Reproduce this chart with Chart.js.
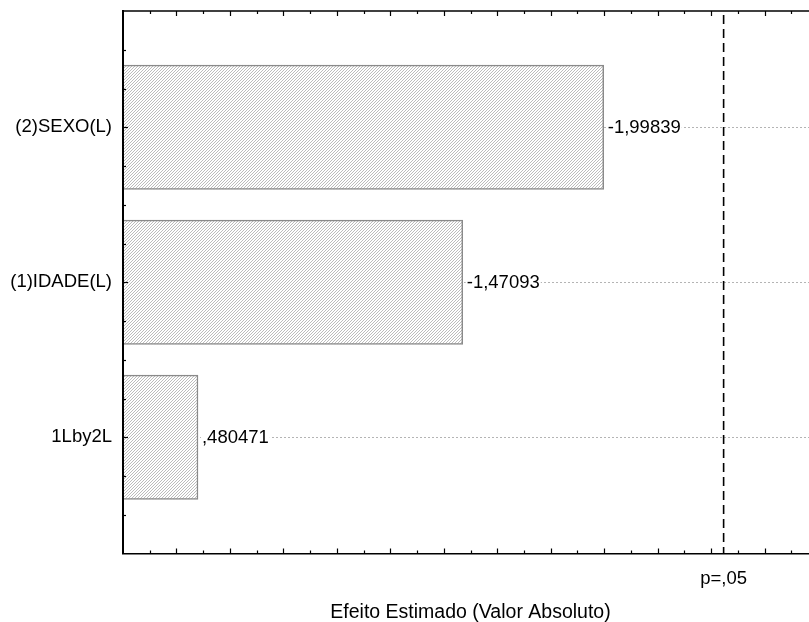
<!DOCTYPE html>
<html>
<head>
<meta charset="utf-8">
<script src="https://cdn.jsdelivr.net/npm/chart.js@4/dist/chart.umd.min.js"></script>
<style>
  html, body { margin: 0; padding: 0; background: #fff; overflow: hidden; }
  #wrap { width: 818px; height: 622px; position: relative; }
</style>
</head>
<body>
<div id="wrap"><canvas id="c"></canvas></div>
<script>
// ---- data ----
const categories = ['(2)SEXO(L)', '(1)IDADE(L)', '1Lby2L'];
const effects = [-1.99839, -1.47093, 0.480471];
const pCrit = 2.446912;
const pLabel = 'p=,05';
const xTitle = 'Efeito Estimado (Valor Absoluto)';
const xMin = 0.2, xMax = 2.8;
const yMin = -0.75, yMax = 2.75;

const FONT = '"Liberation Sans", Arial, Helvetica, sans-serif';

function fmt(v) {
  let s = String(v).replace('.', ',');
  s = s.replace(/^0,/, ',').replace(/^-0,/, '-,');
  return s;
}
function isInt(v) { return Math.abs(v - Math.round(v)) < 1e-6; }

function hatch() {
  const c = document.createElement('canvas');
  c.width = 3; c.height = 3;
  const g = c.getContext('2d');
  g.fillStyle = '#ffffff'; g.fillRect(0, 0, 3, 3);
  g.fillStyle = '#bcbcbc';
  g.fillRect(2, 0, 1, 1); g.fillRect(1, 1, 1, 1); g.fillRect(0, 2, 1, 1);
  return g.createPattern(c, 'repeat');
}

const annot = {
  id: 'annot',
  afterDatasetsDraw(chart) {
    const { ctx, chartArea: a, scales: { x } } = chart;
    const meta = chart.getDatasetMeta(0);
    ctx.save();
    ctx.font = '18.5px ' + FONT;
    ctx.textBaseline = 'middle';
    ctx.textAlign = 'left';
    meta.data.forEach((bar, i) => {
      const txt = fmt(effects[i]);
      const w = ctx.measureText(txt).width;
      const tx = bar.x + 4;
      ctx.fillStyle = '#fff';
      ctx.fillRect(tx - 1, bar.y - 9, w + 2, 18);
      ctx.fillStyle = '#000';
      ctx.fillText(txt, tx, bar.y + 1);
    });
    const px = x.getPixelForValue(pCrit);
    ctx.strokeStyle = '#000';
    ctx.lineWidth = 1.6;
    ctx.setLineDash([9, 5]);
    ctx.beginPath();
    ctx.moveTo(px, a.top + 4);
    ctx.lineTo(px, a.bottom);
    ctx.stroke();
    ctx.restore();
  },
  afterDraw(chart) {
    const { ctx, chartArea: a, scales: { x, y } } = chart;
    ctx.save();
    ctx.strokeStyle = '#000';
    ctx.lineWidth = 1.5;
    ctx.beginPath();
    ctx.moveTo(a.left, a.top);
    ctx.lineTo(a.right, a.top);
    ctx.stroke();
    ctx.lineWidth = 1.2;
    x.ticks.forEach(t => {
      const v = t.value;
      if (v <= xMin + 1e-6 || v >= xMax - 1e-6) return;
      if (Math.abs(v * 10 - Math.round(v * 10)) > 1e-6) return;
      const major = Math.round(v * 10) % 2 === 0;
      const len = major ? 5 : 3;
      const px = Math.round(x.getPixelForValue(v)) + 0.5;
      ctx.beginPath();
      ctx.moveTo(px, a.top); ctx.lineTo(px, a.top + len);
      ctx.moveTo(px, a.bottom); ctx.lineTo(px, a.bottom - len);
      ctx.stroke();
    });
    y.ticks.forEach(t => {
      const v = t.value;
      if (v <= yMin + 1e-6 || v >= yMax - 1e-6) return;
      const len = isInt(v) ? 5 : 3;
      const py = Math.round(y.getPixelForValue(v)) + 0.5;
      ctx.beginPath();
      ctx.moveTo(a.left, py); ctx.lineTo(a.left + len, py);
      ctx.stroke();
    });
    ctx.fillStyle = '#000';
    ctx.font = '18.5px ' + FONT;
    ctx.textAlign = 'center';
    ctx.textBaseline = 'middle';
    ctx.fillText(pLabel, x.getPixelForValue(pCrit), a.bottom + 25);
    ctx.restore();
  }
};

new Chart(document.getElementById('c'), {
  type: 'bar',
  data: {
    datasets: [{
      data: effects.map((v, i) => ({ x: Math.abs(v), y: i })),
      backgroundColor: hatch(),
      borderColor: '#8a8a8a',
      borderWidth: 1.5,
      barThickness: 'flex',
      categoryPercentage: 1,
      barPercentage: 0.802,
      clip: 0
    }]
  },
  plugins: [annot],
  options: {
    indexAxis: 'y',
    responsive: true,
    maintainAspectRatio: false,
    animation: false,
    layout: { padding: { top: 11, right: 0, bottom: 0, left: 0 } },
    plugins: { legend: { display: false }, tooltip: { enabled: false } },
    scales: {
      x: {
        type: 'linear',
        position: 'bottom',
        min: xMin,
        max: xMax,
        offset: false,
        ticks: { display: false, stepSize: 0.1 },
        grid: { display: false, drawTicks: false, offset: false },
        border: { display: true, color: '#000', width: 1.5, z: 1 },
        title: {
          display: true,
          text: xTitle,
          color: '#000',
          font: { family: FONT, size: 19.5, lineHeight: 1 },
          padding: { top: 0, bottom: 0 }
        },
        afterFit(scale) { scale.height = 68.5; scale.paddingLeft = 0; scale.paddingRight = 0; }
      },
      y: {
        type: 'linear',
        position: 'left',
        reverse: true,
        min: yMin,
        max: yMax,
        offset: false,
        ticks: {
          stepSize: 0.25,
          autoSkip: false,
          padding: 11,
          color: '#000',
          font: { family: FONT, size: 18.5 },
          callback: (v) => isInt(v) ? (categories[Math.round(v)] ?? '') : ''
        },
        grid: {
          offset: false,
          drawTicks: false,
          color: (c) => (c.tick && isInt(c.tick.value) && c.tick.value >= 0 && c.tick.value < categories.length) ? '#b4b4b4' : 'rgba(0,0,0,0)',
          lineWidth: 1
        },
        border: { display: true, color: '#000', width: 2, z: 1, dash: [2, 2] },
        afterFit(scale) { scale.width = 123; scale.paddingTop = 0; scale.paddingBottom = 0; }
      }
    }
  }
});
</script>
</body>
</html>
